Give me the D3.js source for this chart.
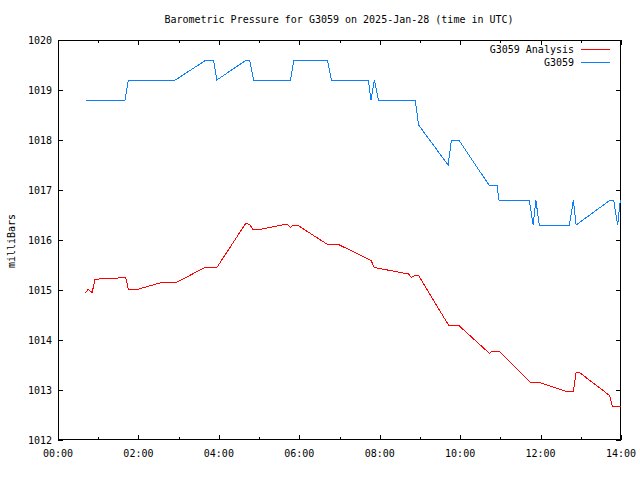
<!DOCTYPE html>
<html>
<head>
<meta charset="utf-8">
<script src="https://cdn.jsdelivr.net/npm/d3@7"></script>
<style>
html,body{margin:0;padding:0;background:#fff;}
text{font-family:"DejaVu Sans Mono","Liberation Mono",monospace;font-size:10px;fill:#000;}
</style>
</head>
<body>
<svg id="chart" width="640" height="480"></svg>
<script>
const titleText = "Barometric Pressure for G3059 on 2025-Jan-28 (time in UTC)";
const yLabelText = "milliBars";
const seriesNames = ["G3059 Analysis", "G3059"];
const seriesColors = ["#ff0000", "#0a80ff"];

const analysisTimes = ["00:41","00:45","00:51","00:55","01:07","01:29","01:31","01:41","01:45","01:58","02:37","02:58","03:39","03:57","04:40","04:46","04:51","05:01","05:38","05:42","05:47","05:51","05:57","06:41","06:57","07:47","07:52","08:43","08:47","08:52","08:58","09:43","09:58","10:44","10:48","10:58","11:45","11:59","12:39","12:49","12:53","12:59","13:43","13:47","14:00"];
const analysisValues = [1014.95,1015.01,1014.95,1015.21,1015.23,1015.23,1015.25,1015.25,1015.01,1015.01,1015.16,1015.16,1015.45,1015.45,1016.33,1016.31,1016.21,1016.21,1016.31,1016.31,1016.25,1016.30,1016.30,1015.92,1015.92,1015.59,1015.45,1015.32,1015.25,1015.29,1015.29,1014.29,1014.29,1013.73,1013.78,1013.78,1013.15,1013.15,1012.97,1012.97,1013.35,1013.34,1012.89,1012.68,1012.68];

const obsTimes = ["00:42","01:40","01:45","02:55","03:41","03:52","03:57","04:41","04:46","04:52","05:47","05:52","06:42","06:48","07:43","07:47","07:52","07:58","08:53","08:58","09:42","09:47","09:58","10:43","10:55","10:58","11:43","11:49","11:53","11:58","12:43","12:49","12:53","13:44","13:49","13:55","13:59"];
const obsValues = [1018.8,1018.8,1019.2,1019.2,1019.6,1019.6,1019.2,1019.6,1019.6,1019.2,1019.2,1019.6,1019.6,1019.2,1019.2,1018.8,1019.2,1018.8,1018.8,1018.3,1017.5,1018.0,1018.0,1017.1,1017.1,1016.8,1016.8,1016.3,1016.8,1016.3,1016.3,1016.8,1016.3,1016.8,1016.8,1016.3,1016.8];

const xTickLabels = ["00:00","02:00","04:00","06:00","08:00","10:00","12:00","14:00"];
const yTickValues = [1012,1013,1014,1015,1016,1017,1018,1019,1020];

function toMin(s){const p=s.split(":");return (+p[0])*60+(+p[1]);}

const svg = d3.select("#chart");
const L=58, R=621, T=40, B=440;
const x = d3.scaleLinear().domain([0, 840]).range([L, R]);
const y = d3.scaleLinear().domain([1012, 1020]).range([B, T]);

const majorX = xTickLabels.map(toMin);
const minorX = d3.range(60, 840, 120);

const g = svg.append("g").attr("shape-rendering","crispEdges").attr("stroke","#000").attr("stroke-width",1);
// border
g.append("rect").attr("x",L+0.5).attr("y",T+0.5).attr("width",R-L-1).attr("height",B-T-1).attr("fill","none");
// x ticks bottom and top
majorX.forEach(m=>{
  const px=Math.round(x(m))+0.5;
  g.append("line").attr("x1",px).attr("x2",px).attr("y1",B).attr("y2",B-5);
  g.append("line").attr("x1",px).attr("x2",px).attr("y1",T).attr("y2",T+5);
});
minorX.forEach(m=>{
  const px=Math.round(x(m))+0.5;
  g.append("line").attr("x1",px).attr("x2",px).attr("y1",B).attr("y2",B-3);
  g.append("line").attr("x1",px).attr("x2",px).attr("y1",T).attr("y2",T+3);
});
// y ticks left & right
yTickValues.forEach(v=>{
  const py=Math.round(y(v))+0.5;
  g.append("line").attr("x1",L).attr("x2",L+5).attr("y1",py).attr("y2",py);
  g.append("line").attr("x1",R).attr("x2",R-5).attr("y1",py).attr("y2",py);
});

// tick labels
svg.append("g").selectAll("text").data(xTickLabels).join("text")
  .attr("x",d=>x(toMin(d))).attr("y",B+17).attr("text-anchor","middle").text(d=>d);
svg.append("g").selectAll("text").data(yTickValues).join("text")
  .attr("x",L-6).attr("y",d=>y(d)+4).attr("text-anchor","end").text(d=>d);

// title & y label
svg.append("text").attr("x",339).attr("y",23).attr("text-anchor","middle").text(titleText);
svg.append("text").attr("transform","translate(15,241) rotate(-90)").attr("text-anchor","middle").text(yLabelText);

// lines
const line = d3.line().x(d=>x(d[0])).y(d=>y(d[1]));
const series = [
  analysisTimes.map((t,i)=>[toMin(t), analysisValues[i]]),
  obsTimes.map((t,i)=>[toMin(t), obsValues[i]])
];
series.forEach((s,i)=>{
  svg.append("path").datum(s).attr("d",line).attr("fill","none")
    .attr("stroke",seriesColors[i]).attr("stroke-width",1).attr("shape-rendering","crispEdges");
});

// legend
const legY=[50,63];
seriesNames.forEach((n,i)=>{
  svg.append("text").attr("x",574).attr("y",legY[i]+3).attr("text-anchor","end").text(n);
  svg.append("line").attr("x1",581).attr("x2",610).attr("y1",legY[i]-0.5).attr("y2",legY[i]-0.5)
    .attr("stroke",seriesColors[i]).attr("stroke-width",1).attr("shape-rendering","crispEdges");
});
</script>
</body>
</html>
